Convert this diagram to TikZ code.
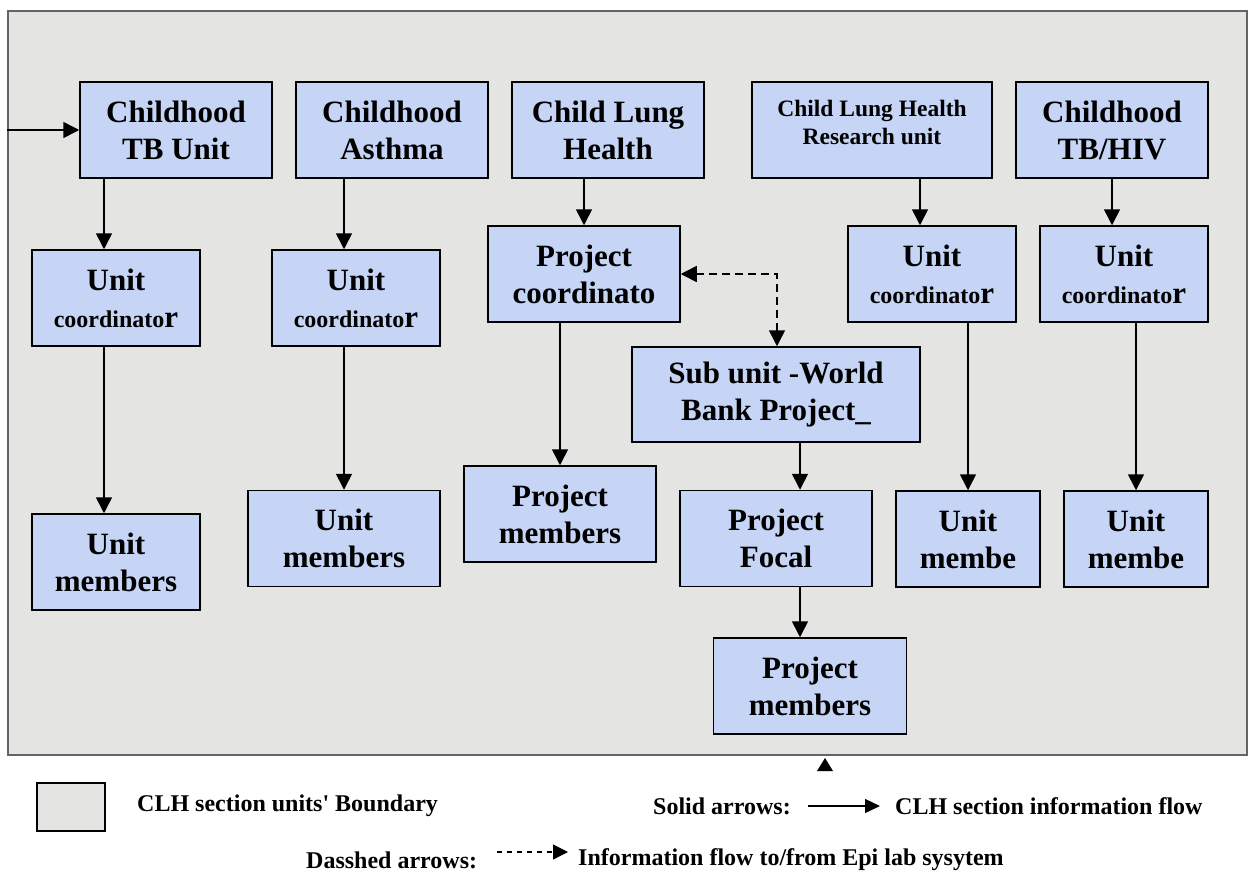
\documentclass[tikz,border=0pt]{standalone}
\usepackage{fontspec}
\setmainfont{Liberation Serif}
\usepackage{xcolor,tikz}
\usetikzlibrary{arrows.meta,calc}
\definecolor{boxfill}{RGB}{198,212,246}
\definecolor{bgfill}{RGB}{228,228,226}
\definecolor{rimgray}{RGB}{100,100,100}
\newcommand{\coordr}{{\fontsize{24}{28}\selectfont coordinato}r}

\begin{document}
\begin{tikzpicture}[x=1pt,y=-1pt,
  box/.style={draw,line width=1.5pt,fill=boxfill,align=center,minimum height=96pt,inner sep=2pt,
    minimum width=192pt,font=\bfseries\fontsize{31}{37}\selectfont},
  ubox/.style={box,minimum width=168pt},
  arr/.style={-{Triangle[length=16pt,width=16pt]},line width=1.6pt},
  darr/.style={{Triangle[length=16pt,width=16pt]}-{Triangle[length=16pt,width=16pt]},line width=1.6pt,dash pattern=on 8pt off 5pt},
  legtext/.style={font=\bfseries\fontsize{24}{28}\selectfont,anchor=west,inner sep=0pt}]
\useasboundingbox (0,0) rectangle (1248,873);
\node[draw=rimgray,line width=1.5pt,fill=bgfill,minimum width=1239pt,minimum height=744pt,anchor=north west] (bound) at (7,10) {};
% section units
\node[box] (tb) at (176,130) {Childhood\\ TB Unit};
\node[box] (asthma) at (392,130) {Childhood\\ Asthma};
\node[box] (clh) at (608,130) {Child Lung\\ Health};
\node[box,minimum width=240pt,font=\bfseries\fontsize{23.5}{28}\selectfont] (research) at (872,130) {Child Lung Health\\ Research unit\\[-12pt] \mbox{}};
\node[box] (tbhiv) at (1112,130) {Childhood\\ TB/HIV};
% coordinators
\node[ubox] (uc1) at (116,298) {Unit\\ \coordr};
\node[ubox] (uc2) at (356,298) {Unit\\ \coordr};
\node[box] (pc) at (584,274) {Project\\ coordinato};
\node[ubox] (uc4) at (932,274) {Unit\\ \coordr};
\node[ubox] (uc5) at (1124,274) {Unit\\ \coordr};
\node[box,minimum width=288pt,minimum height=95pt] (sub) at (776,394.5) {Sub unit -World\\ Bank Project\_};
% members
\node[ubox] (um1) at (116,562) {Unit\\ members};
\node[box] (um2) at (344,538.5) {Unit\\ members};
\node[box] (pm1) at (560,514) {Project\\ members};
\node[box] (pf) at (776,538.5) {Project\\ Focal};
\node[box,minimum width=144pt] (um4) at (968,539) {Unit\\ membe};
\node[box,minimum width=144pt] (um5) at (1136,539) {Unit\\ membe};
\node[box,minimum width=193pt] (pm2) at (810,686) {Project\\ members};
% flows
\draw[arr] (bound.west |- tb.west) -- (tb.west);
\draw[arr] ([xshift=-72pt]tb.south) coordinate (a1) -- (a1 |- uc1.north);
\draw[arr] ([xshift=-48pt]asthma.south) coordinate (a2) -- (a2 |- uc2.north);
\draw[arr] ([xshift=-24pt]clh.south) coordinate (a3) -- (a3 |- pc.north);
\draw[arr] ([xshift=48pt]research.south) coordinate (a4) -- (a4 |- uc4.north);
\draw[arr] (tbhiv.south) -- (tbhiv.south |- uc5.north);
\draw[arr] ([xshift=-12pt]uc1.south) coordinate (b1) -- (b1 |- um1.north);
\draw[arr] ([xshift=-12pt]uc2.south) coordinate (b2) -- (b2 |- um2.north);
\draw[arr] ([xshift=-24pt]pc.south) coordinate (b3) -- (b3 |- pm1.north);
\draw[arr] ([xshift=36pt]uc4.south) coordinate (b4) -- (b4 |- um4.north);
\draw[arr] ([xshift=12pt]uc5.south) coordinate (b5) -- (b5 |- um5.north);
\draw[arr] ([xshift=24pt]sub.south) coordinate (c1) -- (c1 |- pf.north);
\draw[arr] ([xshift=24pt]pf.south) coordinate (c2) -- (c2 |- pm2.north);
\draw[darr] (pc.east) -| ([xshift=1pt]sub.north);
\fill (817,771) -- (833,771) -- (825,758) -- cycle;
% legend
\node[draw,line width=1.2pt,fill=bgfill,minimum width=68pt,minimum height=48pt] (legbox) at (71,807) {};
\node[legtext] (legbound) at (137,806) {CLH section units\textquotesingle{} Boundary};
\node[legtext] (legsolid) at (653,806) {Solid arrows:};
\node[legtext] (legflow) at (895,806) {CLH section information flow};
\draw[-{Triangle[length=15pt,width=14pt]},line width=1.4pt] ([xshift=-87pt]legflow.west) -- ([xshift=-15pt]legflow.west);
\node[legtext] (legdash) at (306,860) {Dasshed arrows:};
\node[legtext] (leginfo) at (578,860) {Information flow to/from Epi lab sysytem};
\draw[-{Triangle[length=15pt,width=15pt]},line width=1.2pt,dash pattern=on 5pt off 5pt] ([xshift=-81pt,yshift=8pt]leginfo.west) -- ([xshift=-10pt,yshift=8pt]leginfo.west);
\end{tikzpicture}
\end{document}
